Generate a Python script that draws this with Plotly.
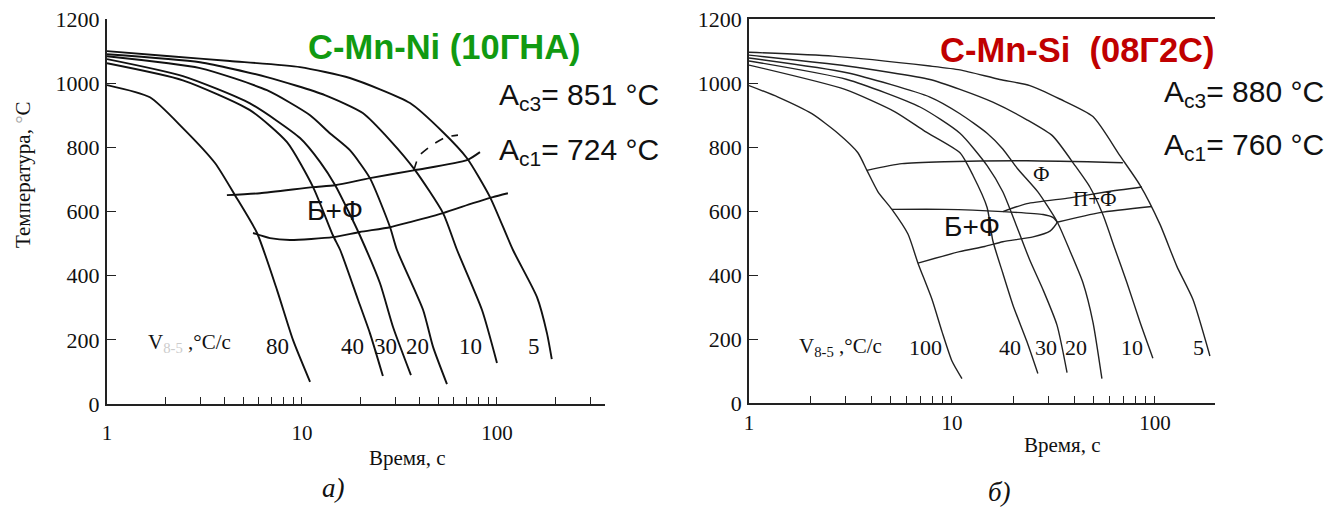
import plotly.graph_objects as go

# page body has an 8px margin: the figure is drawn 8px right/down, so it is 8px smaller
OX, OY = 8, 8
W, H = 1339 - OX, 508 - OY

# ---------------- data: left diagram  C-Mn-Ni (10ГНА) ----------------
# cooling curves: time (s) / temperature (°C)
L80_t = [1.0, 1.66, 2.45, 3.58, 4.53, 5.88, 7.45, 9.0, 11.0]
L80_T = [994, 956, 860, 751, 651, 533, 355, 199, 69]
L40_t = [1.0, 2.45, 5.41, 8.38, 11.4, 14.4, 15.7, 19.4, 22.3, 26.0]
L40_T = [1062, 1009, 916, 816, 676, 526, 480, 324, 221, 87]
L30_t = [1.0, 2.45, 5.41, 9.77, 12.4, 14.8, 17.2, 19.8, 25.1, 29.3, 36.2]
L30_T = [1075, 1022, 937, 829, 754, 682, 604, 526, 377, 240, 90]
L20_t = [1.0, 3.0, 6.61, 11.0, 13.9, 17.6, 22.3, 28.3, 30.7, 41.8, 47.0, 55.4]
L20_T = [1084, 1047, 978, 900, 844, 791, 704, 551, 480, 293, 178, 62]
L10_t = [1.0, 3.0, 6.61, 13.1, 20.5, 28.3, 38.0, 52.9, 62.4, 83.8, 100]
L10_T = [1090, 1065, 1019, 963, 907, 822, 729, 595, 480, 293, 128]
L5_t = [1.0, 2.10, 4.27, 9.77, 17.6, 35.8, 52.9, 70.2, 92.1, 120.8, 160.4, 180.4, 191]
L5_T = [1100, 1084, 1069, 1050, 1016, 938, 847, 766, 645, 480, 333, 221, 140]
# transformation boundaries
LUP_t = [4.12, 6.09, 11.4, 14.8, 22.3, 38.0, 70.2, 81.8]
LUP_T = [651, 657, 676, 682, 704, 729, 760, 785]
LLO_t = [5.61, 6.85, 8.68, 14.4, 19.8, 28.3, 35.8, 52.9, 75.3, 95.3, 113.8]
LLO_T = [533, 517, 511, 520, 536, 551, 567, 595, 626, 645, 657]
LDASH_t = [37.5, 39.8, 46.4, 54.8, 63.1]
LDASH_T = [729, 773, 807, 832, 838]

# ---------------- data: right diagram  C-Mn-Si (08Г2С) ----------------
R100_t = [1.0, 1.39, 2.04, 2.74, 3.44, 3.81, 4.32, 5.06, 6.07, 6.80, 7.97, 8.93, 10.0, 11.2]
R100_T = [992, 956, 904, 843, 782, 727, 660, 605, 528, 437, 324, 223, 131, 76]
R40_t = [1.0, 2.97, 5.24, 7.36, 10.95, 12.7, 14.9, 15.9, 17.8, 20.0, 23.4, 26.5]
R40_T = [1056, 980, 910, 849, 782, 711, 611, 507, 406, 305, 192, 92]
R30_t = [1.0, 3.04, 6.96, 10.95, 14.9, 17.8, 20.9, 24.2, 28.1, 32.9, 36.9]
R30_T = [1069, 1011, 925, 843, 742, 660, 550, 446, 354, 244, 95]
R20_t = [1.0, 3.04, 7.79, 10.95, 14.9, 17.8, 21.0, 26.5, 32.9, 38.1, 44.2, 49.5, 54.8]
R20_T = [1078, 1032, 956, 904, 843, 794, 733, 660, 568, 476, 376, 253, 76]
R10_t = [1.0, 3.04, 7.79, 10.95, 15.9, 23.4, 31.4, 40.4, 47.8, 55.4, 63.5, 72.8, 84.4, 97.7]
R10_T = [1087, 1053, 1011, 980, 940, 885, 834, 742, 675, 589, 482, 376, 253, 140]
R5_t = [1.0, 2.59, 7.79, 10.95, 17.2, 24.2, 34.0, 49.5, 67.2, 84.4, 105.8, 128.3, 153.8, 186.6]
R5_T = [1096, 1084, 1053, 1041, 1011, 992, 950, 895, 773, 681, 559, 427, 324, 147]
RF_t = [3.81, 5.67, 9.24, 23.4, 69.5]
RF_T = [727, 748, 754, 757, 751]
RBF_t = [5.06, 9.24, 17.8, 28.1, 31.4, 32.9, 30.4, 25.1, 17.8, 14.5, 10.9, 6.80]
RBF_T = [605, 605, 598, 589, 580, 565, 537, 519, 504, 489, 473, 437]
RPF_top_t = [17.8, 23.4, 38.1, 58.0, 86.3]
RPF_top_T = [598, 623, 641, 660, 675]
RPF_bot_t = [32.9, 53.6, 96.7]
RPF_bot_T = [565, 595, 614]

Y_TICKS = [0, 200, 400, 600, 800, 1000, 1200]
L_XTICKS = [1, 2, 3, 4, 5, 6, 7, 8, 9, 10, 20, 30, 40, 50, 60, 70, 80, 90, 100, 200, 300]
R_XTICKS = [1, 2, 3, 4, 5, 6, 7, 8, 9, 10, 20, 30, 40, 50, 60, 70, 80, 90, 100]
X_LABELS = {1: "1", 10: "10", 100: "100"}

SERIF = "Liberation Serif, Times New Roman, serif"
SANS = "Liberation Sans, Arial, sans-serif"


def px_x(x):
    return (x - OX) / W


def px_y(y):
    return 1 - (y - OY) / H


fig = go.Figure()


def curve(xs, ys, panel, width, dash="solid", color="#111111"):
    fig.add_trace(go.Scatter(
        x=xs, y=ys, mode="lines",
        xaxis="x" if panel == 1 else "x2",
        yaxis="y" if panel == 1 else "y2",
        line=dict(color=color, width=width, dash=dash, shape="spline", smoothing=0.6),
        hoverinfo="skip", showlegend=False))


for t, T in [(L80_t, L80_T), (L40_t, L40_T), (L30_t, L30_T), (L20_t, L20_T),
             (L10_t, L10_T), (L5_t, L5_T), (LUP_t, LUP_T), (LLO_t, LLO_T)]:
    curve(t, T, 1, 1.9)
curve(LDASH_t, LDASH_T, 1, 1.6, dash="dash")

for t, T in [(R100_t, R100_T), (R40_t, R40_T), (R30_t, R30_T), (R20_t, R20_T),
             (R10_t, R10_T), (R5_t, R5_T), (RF_t, RF_T), (RBF_t, RBF_T),
             (RPF_top_t, RPF_top_T), (RPF_bot_t, RPF_bot_T)]:
    curve(t, T, 2, 1.4, color="#222222")


def xaxis(domain, rng, ticks, lw, standoff):
    return dict(domain=domain, type="log", range=rng, tickmode="array",
                tickvals=ticks, ticktext=[X_LABELS.get(v, "") for v in ticks],
                ticks="inside", ticklen=7, tickwidth=1.3, tickcolor="#222",
                showline=True, linewidth=lw, linecolor="#222", showgrid=False,
                zeroline=False, tickfont=dict(family=SERIF, size=21, color="#111"),
                ticklabelstandoff=standoff, automargin=False, ticklabeloverflow="allow")


def yaxis(domain, lw, anchor):
    return dict(domain=domain, range=[0, 1200], tickmode="array", tickvals=Y_TICKS,
                ticktext=[str(v) for v in Y_TICKS], ticks="inside", ticklen=9,
                tickwidth=1.3, tickcolor="#222", showline=True, linewidth=lw,
                linecolor="#222", showgrid=False, zeroline=False, anchor=anchor,
                tickfont=dict(family=SERIF, size=22, color="#111"),
                ticklabelstandoff=1, automargin=False, ticklabeloverflow="allow")


fig.update_layout(
    width=W, height=H, margin=dict(l=0, r=0, t=0, b=0, autoexpand=False),
    paper_bgcolor="white", plot_bgcolor="white",
    xaxis=xaxis([px_x(107), px_x(605)], [0, 2.554], L_XTICKS, 2, 9) | dict(anchor="y"),
    yaxis=yaxis([px_y(404), px_y(19)], 2, "x"),
    xaxis2=xaxis([px_x(749), px_x(1215)], [0, 2.296], R_XTICKS, 1.5, 0) | dict(anchor="y2", mirror=True),
    yaxis2=yaxis([px_y(403), px_y(19)], 1.5, "x2"),
)


def note(text, x, y, size, family=SERIF, color="#111", xanchor="center", textangle=0):
    fig.add_annotation(text=text, x=px_x(x), y=px_y(y), xref="paper", yref="paper",
                       xanchor=xanchor, yanchor="middle", showarrow=False,
                       textangle=textangle,
                       font=dict(family=family, size=size, color=color))


# titles
note("<b>C-Mn-Ni (10ГНА)</b>", 444, 47, 34.5, SANS, "#119a11")
note("<b>C-Mn-Si \u00a0(08Г2С)</b>", 1077, 50, 34.5, SANS, "#c00000")
note("A<sub>c3</sub>= 851 °C", 497, 97, 30, SANS, xanchor="left")
note("A<sub>c1</sub>= 724 °C", 497, 151, 30, SANS, xanchor="left")
note("A<sub>c3</sub>= 880 °C", 1162, 94, 30, SANS, xanchor="left")
note("A<sub>c1</sub>= 760 °C", 1162, 146, 30, SANS, xanchor="left")

# phase labels
note("Б+Ф", 335, 210, 28, SANS)
note("Б+Ф", 972, 227, 28, SANS)
note("Ф", 1041, 174, 21)
note("П+Ф", 1095, 199, 21)

# cooling-rate labels
note("V<sub><span style='color:#cccccc'>8-5</span></sub> ,°C/c", 189, 343, 21)
for txt, x in [("80", 277), ("40", 352), ("30", 385), ("20", 417), ("10", 470), ("5", 534)]:
    note(txt, x, 346, 23)
note("V<sub>8-5</sub> ,°C/c", 840, 347, 21)
for txt, x in [("100", 925), ("40", 1010), ("30", 1046), ("20", 1076), ("10", 1132), ("5", 1198)]:
    note(txt, x, 347, 22)

# axis titles
note("Температура, <span style='color:#aaaaaa'>°</span>С", 23, 175, 21, textangle=-90)
note("Время, с", 407, 458, 21)
note("Время, с", 1062, 445, 21)
note("<i>а)</i>", 333, 488, 27)
note("<i>б)</i>", 1000, 492, 27)

fig.write_html("out.html")
